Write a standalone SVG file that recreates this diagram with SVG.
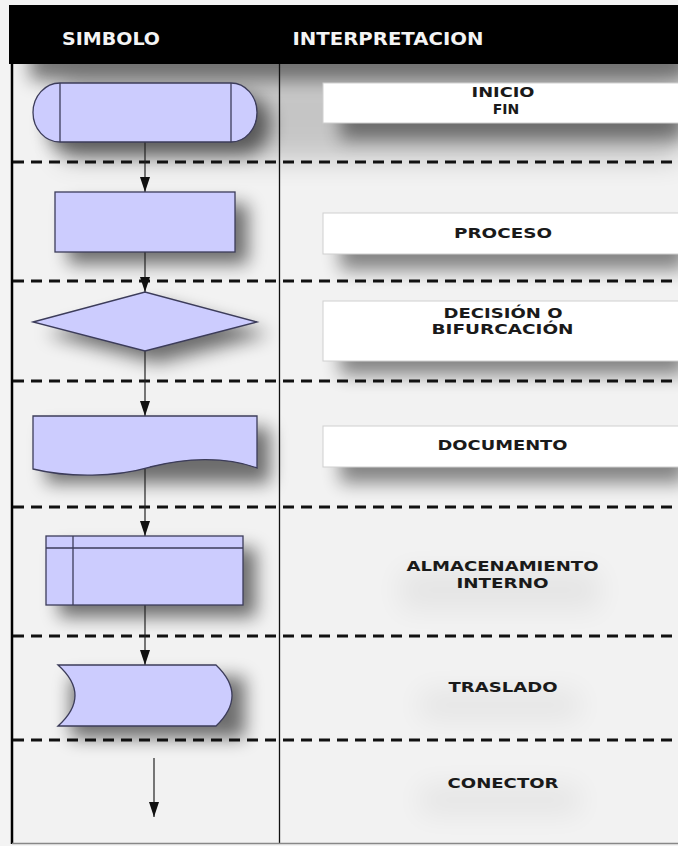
<svg xmlns="http://www.w3.org/2000/svg" width="678" height="846" viewBox="0 0 678 846">
  <defs>
    <style>
      .sym { fill: #ccccfe; stroke: #3c3c5a; stroke-width: 1.3; }
      .inner { fill: none; stroke: #3c3c5a; stroke-width: 1.3; }
      .sep { stroke: #111; stroke-width: 3; stroke-dasharray: 11 7; fill: none; }
      .flow { stroke: #222; stroke-width: 1.2; fill: none; marker-end: url(#arrow); }
      .box { fill: #ffffff; stroke: #cfcfcf; stroke-width: 1; }
      .head { font-family: "DejaVu Sans", "Liberation Sans", sans-serif; font-weight: bold; font-size: 18px; fill: #f4f4f4; text-anchor: middle; }
      .lbl { font-family: "DejaVu Sans", "Liberation Sans", sans-serif; font-weight: bold; font-size: 14px; fill: #1a1a1a; text-anchor: middle; }
    </style>
    <marker id="arrow" markerUnits="userSpaceOnUse" markerWidth="16" markerHeight="10" refX="15" refY="5" orient="auto">
      <path d="M0,0 L15,5 L0,10 Z" fill="#111"/>
    </marker>
    <filter id="soft" x="-30%" y="-30%" width="170%" height="190%">
      <feGaussianBlur stdDeviation="9"/>
    </filter>
    <filter id="haze" x="-50%" y="-50%" width="200%" height="200%">
      <feGaussianBlur stdDeviation="14"/>
    </filter>
  </defs>

  <!-- page -->
  <rect x="0" y="0" width="678" height="846" fill="#f3f3f3"/>
  <rect x="12" y="64" width="666" height="779" fill="#f2f2f2"/>

  <!-- soft shading under the header band -->
  <rect x="30" y="40" width="660" height="40" fill="#000" opacity="0.5" filter="url(#soft)"/>
  <rect x="60" y="70" width="620" height="90" fill="#000" opacity="0.18" filter="url(#haze)"/>

  <!-- drop shadows of the symbols -->
  <g fill="#000" filter="url(#soft)" opacity="0.55">
    <rect x="48" y="95" width="222" height="60" rx="28"/>
    <rect x="68" y="204" width="180" height="60"/>
    <path d="M46,334 L158,304 L270,334 L158,363 Z"/>
    <rect x="46" y="428" width="224" height="55"/>
    <rect x="59" y="548" width="197" height="69"/>
    <rect x="71" y="677" width="174" height="61"/>
  </g>

  <!-- drop shadows of the label boxes -->
  <g fill="#000" filter="url(#soft)" opacity="0.45">
    <rect x="340" y="100" width="345" height="40"/>
    <rect x="340" y="230" width="345" height="40"/>
    <rect x="340" y="330" width="345" height="45"/>
    <rect x="340" y="445" width="345" height="38"/>
  </g>
  <g fill="#000" filter="url(#haze)" opacity="0.05">
    <rect x="400" y="570" width="200" height="40"/>
    <rect x="420" y="690" width="160" height="30"/>
    <rect x="420" y="785" width="160" height="30"/>
  </g>

  <!-- header band -->
  <g id="header">
    <rect x="9" y="5" width="669" height="59" fill="#000"/>
    <text class="head" x="111" y="45" textLength="98" lengthAdjust="spacingAndGlyphs">SIMBOLO</text>
    <text class="head" x="388" y="45" textLength="191" lengthAdjust="spacingAndGlyphs">INTERPRETACION</text>
  </g>

  <!-- table frame -->
  <g id="frame">
    <line x1="12" y1="64" x2="12" y2="844" stroke="#000" stroke-width="2.5"/>
    <line x1="279.5" y1="64" x2="279.5" y2="844" stroke="#111" stroke-width="1.3"/>
    <line x1="12" y1="843.5" x2="678" y2="843.5" stroke="#888" stroke-width="1.5"/>
  </g>

  <!-- row separators -->
  <g id="separators">
    <line class="sep" x1="13" y1="162" x2="678" y2="162"/>
    <line class="sep" x1="13" y1="281" x2="678" y2="281"/>
    <line class="sep" x1="13" y1="381" x2="678" y2="381"/>
    <line class="sep" x1="13" y1="507" x2="678" y2="507"/>
    <line class="sep" x1="13" y1="636" x2="678" y2="636"/>
    <line class="sep" x1="13" y1="740" x2="678" y2="740"/>
  </g>

  <!-- connectors -->
  <g id="connectors">
    <line class="flow" x1="145" y1="142" x2="145" y2="192"/>
    <line class="flow" x1="145" y1="252" x2="145" y2="292"/>
    <line class="flow" x1="145" y1="351" x2="145" y2="416"/>
    <line class="flow" x1="145" y1="468" x2="145" y2="536"/>
    <line class="flow" x1="145" y1="605" x2="145" y2="665"/>
    <line class="flow" x1="154" y1="758" x2="154" y2="817"/>
  </g>

  <!-- symbols -->
  <g id="terminal">
    <path class="sym" d="M60,83 H231 A26,29.5 0 0 1 231,142 H60 A27,29.5 0 0 1 60,83 Z"/>
    <line class="inner" x1="60" y1="83" x2="60" y2="142"/>
    <line class="inner" x1="231" y1="83" x2="231" y2="142"/>
  </g>
  <g id="process">
    <rect class="sym" x="55" y="192" width="180" height="60"/>
  </g>
  <g id="decision">
    <path class="sym" d="M33,322 L145,292 L257,322 L145,351 Z"/>
  </g>
  <g id="document">
    <path class="sym" d="M33,416 H257 V468 C225,456 185,458 150,467 C115,477 70,478 33,469 Z"/>
  </g>
  <g id="storage">
    <rect class="sym" x="46" y="536" width="197" height="69"/>
    <line class="inner" x1="46" y1="548" x2="243" y2="548"/>
    <line class="inner" x1="73" y1="536" x2="73" y2="605"/>
  </g>
  <g id="transfer">
    <path class="sym" d="M58,665 H216 Q248,695.5 216,726 H58 Q92,695.5 58,665 Z"/>
  </g>

  <!-- interpretations -->
  <g id="label-inicio-fin">
    <rect class="box" x="323" y="83" width="360" height="40"/>
    <text class="lbl" x="503" y="97" textLength="63" lengthAdjust="spacingAndGlyphs">INICIO</text>
    <text class="lbl" x="506" y="114">FIN</text>
  </g>
  <g id="label-proceso">
    <rect class="box" x="323" y="213" width="360" height="41"/>
    <text class="lbl" x="503" y="238" textLength="98" lengthAdjust="spacingAndGlyphs">PROCESO</text>
  </g>
  <g id="label-decision">
    <rect class="box" x="323" y="301" width="360" height="60"/>
    <text class="lbl" x="503" y="318" textLength="119" lengthAdjust="spacingAndGlyphs">DECISIÓN O</text>
    <text class="lbl" x="502.5" y="334" textLength="142" lengthAdjust="spacingAndGlyphs">BIFURCACIÓN</text>
  </g>
  <g id="label-documento">
    <rect class="box" x="323" y="426" width="360" height="41"/>
    <text class="lbl" x="502.5" y="450" textLength="130" lengthAdjust="spacingAndGlyphs">DOCUMENTO</text>
  </g>
  <g id="label-almacenamiento">
    <text class="lbl" x="502.5" y="571" textLength="192" lengthAdjust="spacingAndGlyphs">ALMACENAMIENTO</text>
    <text class="lbl" x="502.5" y="588" textLength="92" lengthAdjust="spacingAndGlyphs">INTERNO</text>
  </g>
  <g id="label-traslado">
    <text class="lbl" x="503" y="692" textLength="109" lengthAdjust="spacingAndGlyphs">TRASLADO</text>
  </g>
  <g id="label-conector">
    <text class="lbl" x="503" y="788" textLength="111" lengthAdjust="spacingAndGlyphs">CONECTOR</text>
  </g>
</svg>
